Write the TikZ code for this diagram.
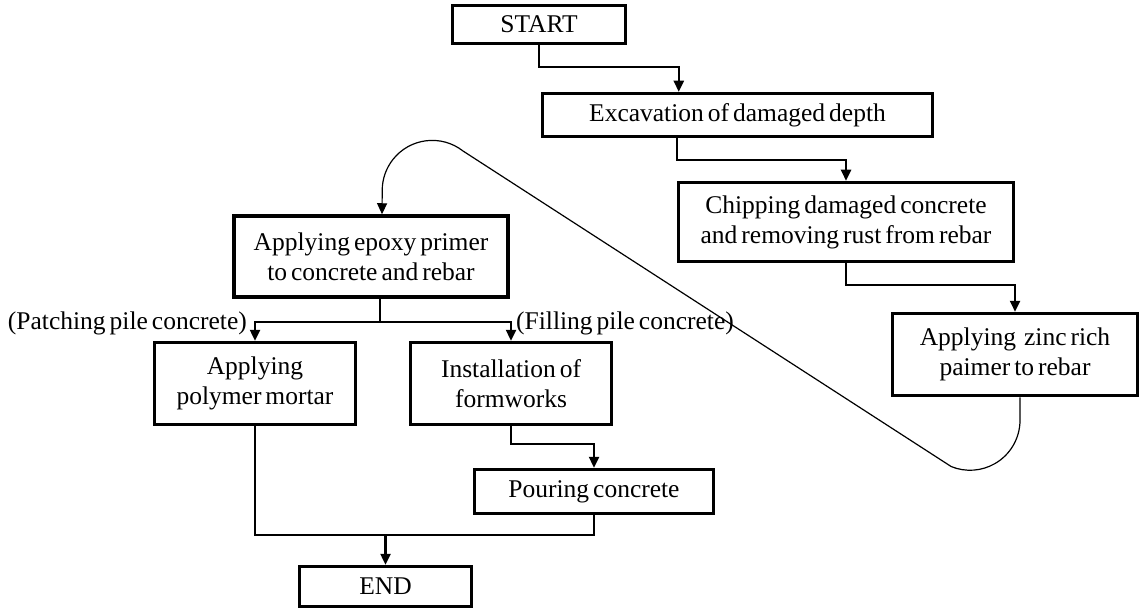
\documentclass[tikz,border=0pt]{standalone}
\usepackage{fontspec}
\setmainfont{Liberation Serif}
\usetikzlibrary{arrows.meta}
\newcommand\flowfont{\rmfamily\fontsize{25.5}{30}\selectfont\spaceskip=4pt plus 1pt\relax}

\begin{document}
\begin{tikzpicture}[
    x=1pt, y=1pt,
    stepbox/.style={draw, line width=3.5pt, align=center, inner sep=2pt, font=\flowfont},
    branch/.style={inner sep=0pt, font=\flowfont},
    arrow/.style={-{Triangle[length=11pt, width=10pt]}, line width=2.4pt},
    link/.style={line width=2.4pt},
    loopline/.style={-{Triangle[length=11pt, width=10pt]}, line width=1.2pt}
]
\useasboundingbox (0,0) rectangle (1140,-612);

% Main steps
\node[stepbox, minimum width=173, minimum height=38] (startbox) at (539,-24.5) {START};
\node[stepbox, minimum width=390, minimum height=43] (excav) at (737.5,-115) {Excavation of damaged depth};
\node[stepbox, minimum width=335, minimum height=79] (chipping) at (846,-222) {Chipping damaged concrete\\and removing rust from rebar};
\node[stepbox, minimum width=245, minimum height=82] (zinc) at (1015,-354.5) {Applying\ \ zinc rich\\paimer to rebar};
\node[stepbox, minimum width=274, minimum height=81] (epoxy) at (371,-256.5) {Applying epoxy primer\\to concrete and rebar};

% Two repair branches
\node[stepbox, minimum width=201, minimum height=82] (polymer) at (255,-383.5) {Applying\\polymer mortar};
\node[stepbox, minimum width=201, minimum height=82] (formwork) at (511,-383.5) {Installation of\\formworks};
\node[stepbox, minimum width=239, minimum height=44] (pouring) at (594,-491.5) {Pouring concrete};
\node[stepbox, minimum width=172, minimum height=40] (endbox) at (385.5,-586.5) {END};

\node[branch, anchor=east] (patchlbl) at (247,-323) {(Patching pile concrete)};
\node[branch, anchor=west] (filllbl) at (516,-323) {(Filling pile concrete)};

% Arrows
\draw[arrow] (startbox.south) -- ++(0,-22) -| ([xshift=138]excav.north west);
\draw[arrow] ([xshift=136]excav.south west) -- ++(0,-22) -| (chipping.north);
\draw[arrow] (chipping.south) -- ++(0,-22) -| (zinc.north);

\draw[link] ([xshift=9]epoxy.south) -- ++(0,-23) coordinate (split);
\draw[arrow] (split) -| (polymer.north);
\draw[arrow] (split) -| (formwork.north);

\draw[arrow] (formwork.south) -- ++(0,-18) -| (pouring.north);
\draw[link] (polymer.south) -- ++(0,-109) coordinate (merge) -| (pouring.south);
\draw[arrow] (merge -| endbox.north) -- (endbox.north);

% Loop back from zinc primer to epoxy primer
\coordinate (loopup) at (463,-151);
\draw[loopline] ([xshift=5]zinc.south) -- ++(0,-23)
    arc[start angle=0, end angle=-112, radius=50] -- (loopup)
    arc[start angle=52, end angle=180, radius=50] -- ([xshift=11]epoxy.north);

\end{tikzpicture}
\end{document}
